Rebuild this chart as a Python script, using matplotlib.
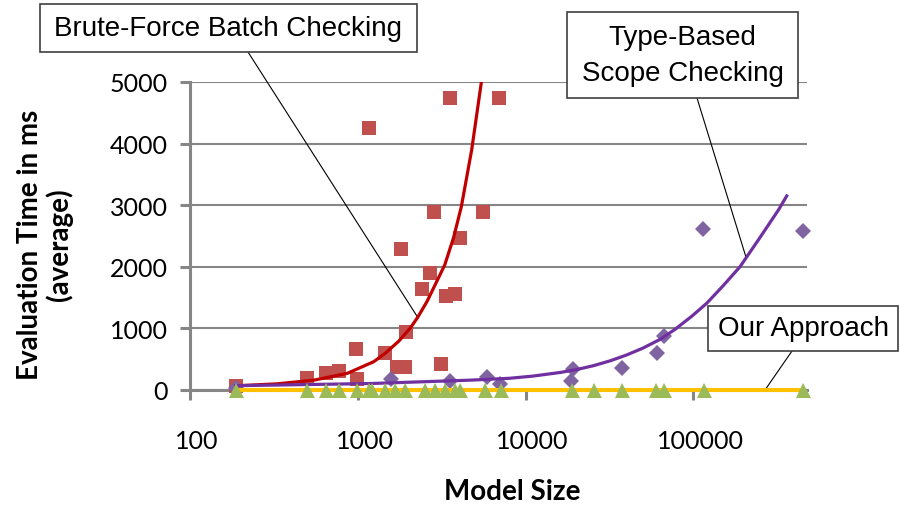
import numpy as np
import matplotlib.pyplot as plt
from matplotlib.patches import Rectangle
import matplotlib.transforms as mtransforms

# Brute-force batch checking (red squares)
bf_size = [187, 500, 643, 768, 969, 992, 1169, 1462, 1716, 1820, 1922, 1950,
           2427, 2684, 2834, 3150, 3376, 3820, 3567, 4046, 5580, 6980]
bf_time = [65, 201, 282, 308, 660, 185, 4252, 607, 380, 2283, 380, 948,
           1634, 1905, 2889, 417, 1526, 1553, 4734, 2462, 2889, 4734]

# Type-based scope checking (purple diamonds)
tb_size = [187, 1566, 3563, 5890, 7070, 18700, 19100, 37500, 60500, 67200,
           113700, 451000]
tb_time = [30, 174, 146, 217, 93, 146, 347, 364, 607, 876, 2608, 2581]

# Our approach (green triangles)
oa_size = [187, 500, 643, 768, 992, 1161, 1218, 1462, 1676, 1922, 2530, 2899,
           3325, 3815, 4085, 5750, 7130, 18900, 25400, 37500, 60000, 67000,
           114800, 448000]
oa_time = [0] * len(oa_size)

# Trend lines
bf_trend_x = [187, 330, 547, 865, 1245, 1462, 1750, 2060, 2275, 2588, 3296,
              3727, 4142, 4771, 5450]
bf_trend_y = [68, 100, 160, 270, 460, 600, 790, 1010, 1180, 1440, 2030,
              2480, 2980, 3900, 5000]
tb_trend_x = [187, 1189, 4690, 8000, 11000, 16100, 20000, 25400, 32000, 40100,
              50000, 63400, 77800, 98000, 120200, 150000, 189700, 247000,
              320600, 359700]
tb_trend_y = [70, 105, 160, 190, 225, 285, 330, 395, 475, 570,
              680, 823, 986, 1200, 1410, 1690, 2003, 2460,
              2920, 3150]
oa_trend_x = [187, 448000]
oa_trend_y = [0, 0]

x_ticks = [100, 1000, 10000, 100000]
y_ticks = [0, 1000, 2000, 3000, 4000, 5000]

W, H = 901, 506
GRAY = '#868686'

fig = plt.figure(figsize=(W / 100, H / 100), dpi=100)
ax = fig.add_axes([190 / W, 1 - 391 / H, (807 - 190) / W, (391 - 83) / H])

ax.set_xscale('log')
ax.set_xlim(100, 475000)
ax.set_ylim(0, 5000)

ax.plot(bf_size, bf_time, 's', color='#C0504D', ms=9.4, mew=0, zorder=3, clip_on=False)
ax.plot(tb_size, tb_time, 'D', color='#8064A2', ms=8.5, mew=0, zorder=3, clip_on=False)
ax.plot(bf_trend_x, bf_trend_y, color='#C00000', lw=2.3, zorder=4)
ax.plot(tb_trend_x, tb_trend_y, color='#7030A0', lw=2.3, zorder=4)
ax.plot(oa_trend_x, oa_trend_y, color='#FFC000', lw=2.9, zorder=4, clip_on=False)
ax.plot(oa_size, oa_time, '^', color='#9BBB59', ms=10.8, mew=0, zorder=5, clip_on=False)

# axes styling
for side in ['top', 'right']:
    ax.spines[side].set_visible(False)
for side in ['left', 'bottom']:
    ax.spines[side].set_color(GRAY)
    ax.spines[side].set_linewidth(2.2)
ax.yaxis.grid(True, color=GRAY, lw=1.5)
ax.set_axisbelow(True)

ax.set_xticks(x_ticks)
ax.set_xticklabels([str(v) for v in x_ticks])
ax.xaxis.set_minor_locator(plt.NullLocator())
ax.set_yticks(y_ticks)
ax.set_yticklabels([str(v) for v in y_ticks])
ax.tick_params(axis='both', colors=GRAY, width=2.2, length=7, labelcolor='black',
               labelsize=18)
ax.tick_params(axis='x', pad=21)
ax.tick_params(axis='y', pad=9)
for lab in ax.get_xticklabels() + ax.get_yticklabels():
    lab.set_fontfamily('Lato')
shift = mtransforms.ScaledTranslation(7 / 100, 0, fig.dpi_scale_trans)
for lab in ax.get_xticklabels():
    lab.set_transform(lab.get_transform() + shift)

fig.text(512 / W, 1 - 492 / H, 'Model Size', ha='center', va='center',
         fontsize=20, fontweight='bold', family='Lato')
fig.text(45 / W, 1 - 245 / H, 'Evaluation Time in ms\n(average)', ha='center',
         va='center', rotation=90, fontsize=20, fontweight='bold', family='Lato',
         linespacing=1.15)


def callout(x0, y0, x1, y1, label):
    fig.patches.append(Rectangle((x0 / W, 1 - y1 / H), (x1 - x0) / W, (y1 - y0) / H,
                                 transform=fig.transFigure, facecolor='white',
                                 edgecolor='#404040', lw=1.2, zorder=10))
    fig.text((x0 + x1) / 2 / W, 1 - (y0 + y1) / 2 / H, label, ha='center',
             va='center', fontsize=20, family='Liberation Sans',
             linespacing=1.5, zorder=11)


def leader(x_img, y_img, x_data, y_data):
    ax.annotate('', xy=(x_data, y_data), xycoords='data',
                xytext=(x_img / W, 1 - y_img / H), textcoords='figure fraction',
                arrowprops=dict(arrowstyle='-', color='black', lw=0.8,
                                shrinkA=0, shrinkB=0),
                annotation_clip=False)


leader(248, 53, bf_trend_x[8], bf_trend_y[8])
leader(697, 99, 206000, 2150)
leader(792, 352, 267000, 0)

callout(40, 5, 417, 53, 'Brute-Force Batch Checking')
callout(567, 13, 798, 99, 'Type-Based\nScope Checking')
callout(708, 307, 898, 352, 'Our Approach')

fig.savefig('out.png', dpi=100)
